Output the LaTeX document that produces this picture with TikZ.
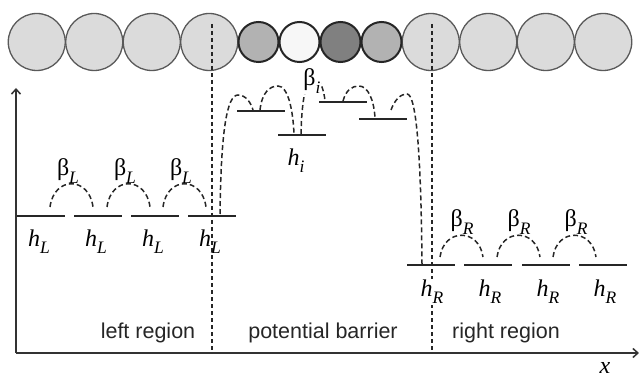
\documentclass[tikz,border=0pt]{standalone}
\usepackage{fontspec}
\setmainfont{Liberation Serif}
\setsansfont{Liberation Sans}
\usetikzlibrary{arrows.meta}
\newcommand{\symb}[2]{#1\raisebox{-0.3em}{\fontsize{17.5}{17.5}\selectfont\itshape #2}}
\begin{document}
\begin{tikzpicture}[x=1pt,y=-1pt,
  bigc/.style={circle,draw=black!65,fill=black!14,line width=1.3pt,minimum size=57pt,inner sep=0pt},
  smallc/.style={circle,draw=black!85,line width=2pt,minimum size=40pt,inner sep=0pt},
  lvl/.style={draw=black!85,line width=1.7pt},
  hop/.style={draw=black!85,line width=1.5pt,dash pattern=on 5pt off 3pt},
  divider/.style={draw=black!85,line width=1.4pt,dash pattern=on 4pt off 3pt},
  axisline/.style={draw=black!80,line width=1.5pt,-{Straight Barb[length=5pt,width=9pt]}},
  lab/.style={font=\fontsize{24}{24}\selectfont,inner sep=1pt},
  reg/.style={font=\sffamily\fontsize{21.5}{22}\selectfont,text=black!85,inner sep=1pt}]
\useasboundingbox (0,0) rectangle (639,379);
% atoms
\foreach \i/\x in {1/36.75,2/94.25,3/151.75,4/209.25,9/430.75,10/488.25,11/545.75,12/603.25}
  \node[bigc] (c\i) at (\x,42) {};
\node[smallc,fill=black!30] (c5) at (258.5,42) {};
\node[smallc,fill=black!3] (c6) at (299.5,42) {};
\node[smallc,fill=black!50] (c7) at (340.5,42) {};
\node[smallc,fill=black!30] (c8) at (381.5,42) {};
% axes
\coordinate (O) at (16,353);
\coordinate (Ytop) at (16,88);
\coordinate (Xend) at (639,353);
\draw[axisline] (O) -- (Ytop);
\draw[axisline] (O) -- (Xend);
\node[lab,font=\fontsize{24}{24}\selectfont\itshape] (xl) at (605,368) {x};
% dividers
\coordinate (d1t) at (212,24); \coordinate (d1b) at (212,353);
\coordinate (d2t) at (432,24); \coordinate (d2b) at (432,353);
\draw[divider] (d1t) -- (d1b);
\draw[divider] (d2t) -- (d2b);
% left levels
\foreach \k/\a in {1/17,2/74,3/131,4/188}{
  \draw[lvl] (\a,216) coordinate (L\k a) -- ++(48,0) coordinate (L\k b);
}
\foreach \k/\a in {1/50,2/107,3/163}{
  \coordinate (la\k) at (\a,207);
  \coordinate (lb\k) at (\a+43,207);
  \draw[hop] (la\k) .. controls +(4,-31) and +(-4,-31) .. (lb\k);
}
\node[lab] (bL1) at (68,171) {\symb{β}{L}};
\node[lab] (bL2) at (125,171) {\symb{β}{L}};
\node[lab] (bL3) at (181,171) {\symb{β}{L}};
\node[lab] (hL1) at (39,242) {\symb{\itshape h}{L}};
\node[lab] (hL2) at (96,242) {\symb{\itshape h}{L}};
\node[lab] (hL3) at (153,242) {\symb{\itshape h}{L}};
\node[lab] (hL4) at (210,242) {\symb{\itshape h}{L}};
% right levels
\foreach \k/\a in {1/407,2/464,3/522,4/579}{
  \draw[lvl] (\a,265) coordinate (R\k a) -- ++(48,0) coordinate (R\k b);
}
\foreach \k/\a in {1/440,2/497,3/553}{
  \coordinate (ra\k) at (\a,257);
  \coordinate (rb\k) at (\a+43,257);
  \draw[hop] (ra\k) .. controls +(4,-29) and +(-4,-29) .. (rb\k);
}
\node[lab] (bR1) at (462,222) {\symb{β}{R}};
\node[lab] (bR2) at (519,222) {\symb{β}{R}};
\node[lab] (bR3) at (576,222) {\symb{β}{R}};
\node[lab,fill=white] (hR1) at (432,292) {\symb{\itshape h}{R}};
\node[lab] (hR2) at (490,292) {\symb{\itshape h}{R}};
\node[lab] (hR3) at (548,292) {\symb{\itshape h}{R}};
\node[lab] (hR4) at (605,292) {\symb{\itshape h}{R}};
% barrier levels
\draw[lvl] (237,111) coordinate (B1a) -- (285,111) coordinate (B1b);
\draw[lvl] (278,135) coordinate (B2a) -- (326,135) coordinate (B2b);
\draw[lvl] (319,102) coordinate (B3a) -- (367,102) coordinate (B3b);
\draw[lvl] (359,119) coordinate (B4a) -- (407,119) coordinate (B4b);
% barrier hops
\coordinate (h0s) at (220,214); \coordinate (h0p) at (238,95); \coordinate (h0e) at (253,110);
\draw[hop] (h0s) .. controls (221,130) and (227,95) .. (h0p) .. controls (246,95) and (251,103) .. (h0e);
\coordinate (h1s) at (260,110); \coordinate (h1p) at (278,86); \coordinate (h1e) at (294,134);
\draw[hop] (h1s) .. controls (262,92) and (270,86) .. (h1p) .. controls (288,86) and (293,110) .. (h1e);
\coordinate (h2s) at (301,134); \coordinate (h2p) at (314,78); \coordinate (h2e) at (325,101);
\draw[hop] (h2s) .. controls (302,90) and (308,78) .. (h2p) .. controls (320,78) and (324,90) .. (h2e);
\coordinate (h3s) at (343,101); \coordinate (h3p) at (359,86); \coordinate (h3e) at (375,118);
\draw[hop] (h3s) .. controls (346,90) and (352,86) .. (h3p) .. controls (368,86) and (374,100) .. (h3e);
\coordinate (h4s) at (391,110); \coordinate (h4p) at (407,94); \coordinate (h4e) at (422,264);
\draw[hop] (h4s) .. controls (395,99) and (401,94) .. (h4p) .. controls (416,94) and (421,150) .. (h4e);
\node[lab,fill=white,inner sep=0.5pt] (bi) at (312,81) {\symb{β}{i}};
\node[lab] (hi) at (296,161) {\symb{\itshape h}{i}};
% region labels
\node[reg] (lr) at (148,333) {left region};
\node[reg] (pb) at (323,333) {potential barrier};
\node[reg] (rr) at (506,333) {right region};
\end{tikzpicture}
\end{document}
